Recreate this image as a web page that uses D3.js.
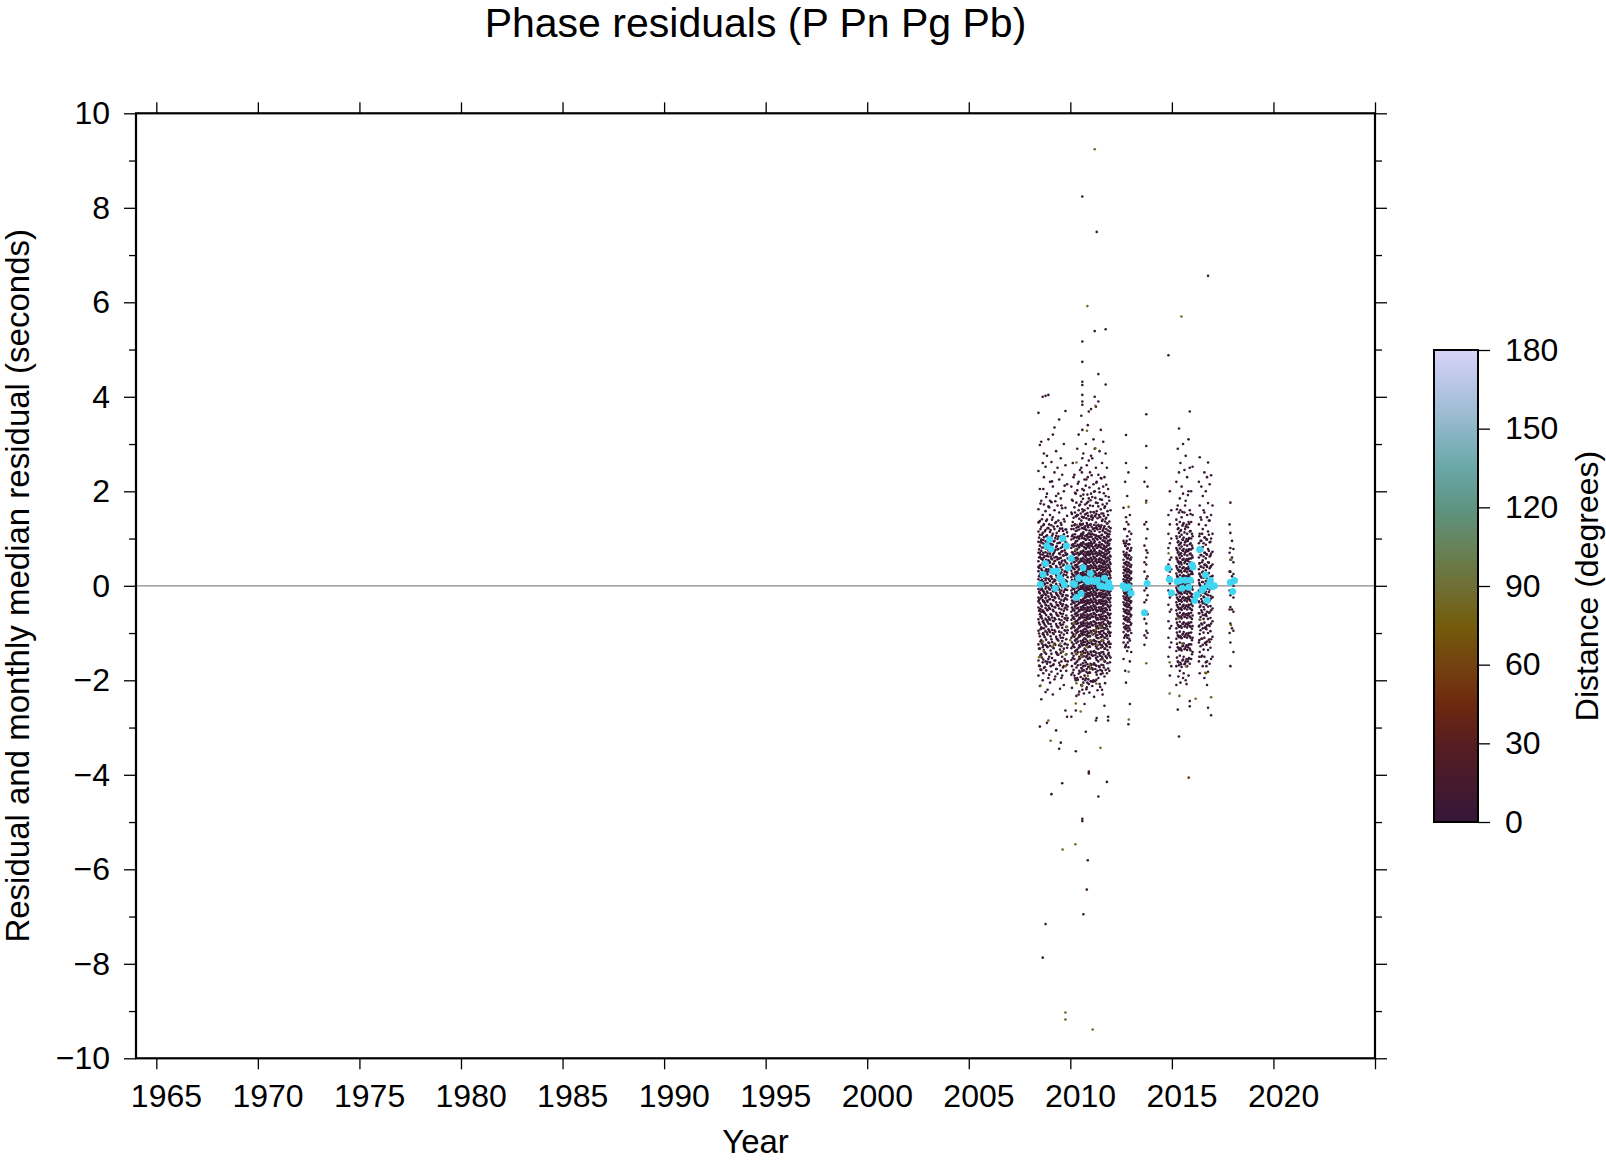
<!DOCTYPE html>
<html><head><meta charset="utf-8">
<script src="https://cdn.jsdelivr.net/npm/d3@7"></script>
<style>
body{margin:0;background:#fff}
svg{display:block}
text{font-family:"Liberation Sans",Arial,Helvetica,sans-serif;fill:#000}
</style>
</head><body>
<svg id="chart" width="1606" height="1161"></svg>
<script>
// ---------------- DATA ----------------
const titleText = "Phase residuals (P Pn Pg Pb)";
const xLabelText = "Year";
const yLabelText = "Residual and monthly median residual (seconds)";
const cbLabelText = "Distance (degrees)";

const xDomain = [1964, 2025];
const yDomain = [-10, 10];
const xTickYears = [1965,1970,1975,1980,1985,1990,1995,2000,2005,2010,2015,2020,2025];
const xTickLabels = [1965,1970,1975,1980,1985,1990,1995,2000,2005,2010,2015,2020];
const yMajorTicks = [-10,-8,-6,-4,-2,0,2,4,6,8,10];
const yMinorTicks = [-9,-7,-5,-3,-1,1,3,5,7,9];
const cbTicks = [0,30,60,90,120,150,180];

// colour palette of distance (degrees)
const cmapStops  = [0,15,30,45,60,75,90,105,120,135,150,165,180];
const cmapColors = ["#341738","#451a2d","#581d20","#6d2a0f","#754210","#735c0b","#6f6f35","#668358","#5e9482","#6aa7a7","#8db6c8","#b4c4e3","#d8d4f8"];

// events (origin time, decimal year) and residuals (s) of near stations
const eventYears = [
 2008.43,2008.50,2008.57,2008.64,2008.70,2008.78,2008.85,2008.92,2009.00,2009.07,
 2009.14,2009.22,2009.30,2009.37,2009.45,2009.53,2009.60,2009.68,2009.76,2009.84,
 2010.05,2010.12,2010.20,2010.27,2010.34,2010.41,2010.48,2010.54,2010.59,2010.64,
 2010.70,2010.76,2010.81,2010.86,2010.91,2010.97,2011.02,2011.08,2011.14,2011.20,
 2011.26,2011.30,2011.38,2011.44,2011.50,2011.56,2011.62,2011.68,2011.74,2011.80,
 2011.86,2011.92,2011.98,
 2012.62,2012.70,2012.74,2012.80,2012.86,2012.93,2013.00,
 2013.65,2013.74,2013.80,
 2014.83,2014.90,2014.97,
 2015.22,2015.29,2015.35,2015.42,2015.48,2015.55,2015.62,2015.68,2015.75,2015.82,2015.88,2015.95,2016.02,
 2016.33,2016.37,2016.45,2016.52,2016.60,2016.67,2016.73,2016.78,2016.86,2016.93,2017.00,
 2017.84,2017.88,2017.96,2018.03
];
const eventDistances = [
 5,4,6,5,7,4,5,6,5,4, 6,5,4,7,5,6,4,5,6,5,
 4,5,6,4,5,7,5,4,6,5, 4,6,5,5,4,6,5,7,4,5,
 6,5,4,5,6,4,5,7,5,4, 6,5,4,
 5,4,6,5,4,6,5,
 5,6,4,
 5,4,6,
 4,5,6,4,5,7,5,4,6,5,4,6,5,
 5,4,6,5,4,6,5,4,5,6,4,
 5,6,4,5
];
const eventResiduals = [
 [3.66,2.43,1.62,1.15,0.93,0.7,0.52,0.31,0.14,-0.07,-0.25,-0.46,-0.71,-0.95,-1.24,-1.58,-1.9,0.4,-0.33,1.34],
 [2.98,2.05,1.37,1.08,0.85,0.61,0.43,0.22,0.02,-0.16,-0.37,-0.6,-0.82,-1.07,-1.33,-1.7,-2.12,0.7,-0.5,-2.98],
 [3.05,1.8,1.25,0.98,0.74,0.57,0.36,0.18,-0.03,-0.21,-0.42,-0.64,-0.88,-1.15,-1.45,-1.78,0.95,0.08,-0.55,-2.4],
 [4.0,2.6,1.5,1.12,0.9,0.66,0.48,0.27,0.09,-0.1,-0.3,-0.52,-0.76,-1.02,-1.3,-1.62,-2.0,0.55,-0.2,-7.87],
 [2.3,1.72,1.3,1.03,0.81,0.6,0.4,0.21,0.03,-0.14,-0.33,-0.55,-0.79,-1.05,-1.36,-1.74,0.17,-0.9,2.8],
 [4.02,2.52,1.58,1.18,0.94,0.71,0.5,0.32,0.12,-0.06,-0.26,-0.47,-0.7,-0.96,-1.25,-1.6,-2.25,-7.16,0.8,-0.4],
 [2.75,1.95,1.4,1.07,0.83,0.63,0.44,0.25,0.06,-0.12,-0.31,-0.5,-0.73,-0.99,-1.28,-1.65,-2.9,0.3],
 [4.04,3.1,1.68,1.22,0.96,0.75,0.54,0.35,0.15,-0.04,-0.23,-0.43,-0.66,-0.92,-1.2,-1.55,-1.95,0.62,-0.8],
 [2.2,1.5,1.14,0.9,0.68,0.49,0.29,0.1,-0.08,-0.28,-0.49,-0.72,-0.98,-1.27,-1.62,-2.05,0.42,1.8],
 [2.62,1.77,1.28,1.0,0.78,0.58,0.38,0.19,0.0,-0.19,-0.4,-0.62,-0.86,-1.13,-1.44,-1.82,-4.41,0.88],
 [3.2,2.1,1.45,1.1,0.87,0.65,0.46,0.26,0.07,-0.11,-0.3,-0.51,-0.74,-1.0,-1.3,-1.68,-2.3],
 [3.35,2.4,1.6,1.2,0.95,0.72,0.52,0.33,0.13,-0.05,-0.24,-0.45,-0.68,-0.94,-1.22,-1.58,-1.98,0.6],
 [2.85,1.9,1.35,1.06,0.82,0.61,0.42,0.23,0.04,-0.15,-0.35,-0.57,-0.81,-1.08,-1.4,-1.76,-3.06,0.34],
 [2.5,1.7,1.26,0.99,0.77,0.56,0.37,0.17,-0.02,-0.2,-0.41,-0.63,-0.87,-1.14,-1.46,-1.86,0.9],
 [3.52,2.25,1.55,1.16,0.91,0.69,0.49,0.3,0.11,-0.08,-0.27,-0.48,-0.71,-0.97,-1.26,-1.63,-3.45,0.58],
 [2.7,1.85,1.33,1.04,0.8,0.59,0.39,0.2,0.01,-0.17,-0.38,-0.59,-0.83,-1.1,-1.42,-1.8,-3.32],
 [2.35,1.64,1.21,0.96,0.73,0.53,0.34,0.16,-0.03,-0.22,-0.43,-0.65,-0.89,-1.17,-1.5,-1.9,-4.18,0.82],
 [3.0,2.0,1.41,1.09,0.86,0.64,0.45,0.24,0.05,-0.13,-0.32,-0.53,-0.77,-1.03,-1.33,-1.7,-2.1],
 [3.7,2.55,1.65,1.19,0.93,0.7,0.51,0.31,0.12,-0.07,-0.26,-0.46,-0.69,-0.95,-1.23,-1.59,-2.64],
 [2.15,1.48,1.13,0.89,0.67,0.47,0.28,0.09,-0.09,-0.29,-0.5,-0.73,-1.0,-1.31,-1.67,-2.77],
 [2.1,1.55,1.2,0.98,0.8,0.63,0.47,0.32,0.18,0.04,-0.1,-0.24,-0.39,-0.55,-0.72,-0.9,-1.1,-1.32,-1.57,-1.88,-2.77,0.58],
 [2.6,1.8,1.35,1.08,0.88,0.7,0.54,0.38,0.23,0.08,-0.06,-0.2,-0.35,-0.51,-0.68,-0.86,-1.06,-1.28,-1.53,-1.84,0.05],
 [2.35,1.66,1.28,1.03,0.84,0.66,0.5,0.35,0.2,0.06,-0.08,-0.22,-0.37,-0.53,-0.7,-0.88,-1.08,-1.3,-1.55,-1.9],
 [1.95,1.47,1.16,0.94,0.76,0.59,0.44,0.29,0.15,0.01,-0.13,-0.27,-0.42,-0.58,-0.75,-0.94,-1.14,-1.37,-1.63,-2.0,-2.64,-3.5],
 [2.9,2.02,1.5,1.17,0.95,0.77,0.6,0.45,0.3,0.16,0.02,-0.12,-0.26,-0.41,-0.57,-0.74,-0.92,-1.12,-1.35,-1.6,-1.95],
 [3.2,2.2,1.6,1.25,1.01,0.82,0.65,0.49,0.34,0.19,0.05,-0.09,-0.23,-0.38,-0.54,-0.71,-0.89,-1.09,-1.31,-1.56,-1.86,-2.3],
 [2.45,1.72,1.31,1.05,0.86,0.68,0.52,0.36,0.21,0.07,-0.07,-0.21,-0.36,-0.52,-0.69,-0.87,-1.07,-1.29,-1.54,-1.83],
 [3.6,2.5,1.78,1.38,1.1,0.9,0.72,0.56,0.4,0.25,0.11,-0.03,-0.17,-0.32,-0.47,-0.64,-0.82,-1.01,-1.22,-1.46,-1.74,-2.1],
 [8.24,5.17,4.74,4.32,4.25,4.04,3.9,3.83,3.3,2.7,2.05,1.62,1.3,1.06,0.87,0.69,0.53,0.37,0.22,0.08,-0.06,-0.2,-0.35,-0.5,-0.67,-0.85,-1.04,-1.26,-1.5,-1.8,-2.2,-4.98,-4.93],
 [2.8,1.93,1.44,1.13,0.92,0.74,0.58,0.42,0.27,0.13,-0.01,-0.15,-0.3,-0.45,-0.61,-0.79,-0.98,-1.19,-1.42,-1.7,-2.05,-6.95],
 [2.25,1.6,1.24,1.0,0.81,0.64,0.48,0.33,0.19,0.04,-0.1,-0.25,-0.4,-0.56,-0.73,-0.91,-1.11,-1.33,-1.58,-1.9,-2.5],
 [3.0,2.12,1.52,1.19,0.97,0.78,0.61,0.46,0.31,0.17,0.03,-0.11,-0.25,-0.4,-0.56,-0.73,-0.92,-1.13,-1.36,-1.62,-1.96,-3.09],
 [2.55,1.75,1.33,1.06,0.86,0.69,0.53,0.38,0.23,0.09,-0.05,-0.19,-0.34,-0.5,-0.66,-0.84,-1.03,-1.24,-1.48,-1.76,-2.15,-6.43],
 [3.4,2.3,1.64,1.27,1.02,0.83,0.66,0.5,0.35,0.2,0.06,-0.08,-0.22,-0.37,-0.53,-0.7,-0.88,-1.08,-1.3,-1.55,-1.85,-5.81],
 [3.69,2.65,1.85,1.4,1.11,0.9,0.72,0.56,0.41,0.26,0.12,-0.02,-0.16,-0.31,-0.46,-0.63,-0.81,-1.0,-1.21,-1.45,-1.72,-2.08,-3.97,-3.93],
 [2.4,1.7,1.29,1.04,0.85,0.67,0.51,0.36,0.21,0.07,-0.07,-0.21,-0.36,-0.52,-0.69,-0.87,-1.07,-1.29,-1.54,-1.84],
 [3.74,2.75,1.95,1.46,1.15,0.93,0.75,0.59,0.43,0.28,0.14,0.0,-0.14,-0.29,-0.44,-0.6,-0.78,-0.97,-1.18,-1.41,-1.68,-2.02],
 [2.7,1.88,1.4,1.1,0.89,0.71,0.55,0.39,0.24,0.1,-0.04,-0.18,-0.33,-0.48,-0.65,-0.83,-1.02,-1.23,-1.47,-1.75,-2.12],
 [3.1,2.15,1.56,1.21,0.98,0.79,0.62,0.47,0.32,0.17,0.03,-0.11,-0.26,-0.41,-0.57,-0.75,-0.94,-1.15,-1.39,-1.66,-2.0],
 [5.39,4.0,2.9,2.0,1.48,1.16,0.94,0.76,0.6,0.44,0.29,0.15,0.01,-0.13,-0.28,-0.43,-0.59,-0.77,-0.96,-1.17,-1.4,-1.67,-2.02],
 [3.79,2.5,1.76,1.34,1.07,0.87,0.7,0.54,0.38,0.23,0.09,-0.05,-0.2,-0.35,-0.51,-0.68,-0.86,-1.06,-1.28,-1.53,-1.83,-2.85],
 [7.49,2.2,1.58,1.22,0.99,0.8,0.63,0.48,0.33,0.18,0.04,-0.1,-0.24,-0.39,-0.55,-0.72,-0.9,-1.1,-1.32,-1.57,-1.88,-2.8],
 [4.48,3.9,2.35,1.68,1.29,1.04,0.84,0.67,0.51,0.36,0.21,0.07,-0.07,-0.22,-0.37,-0.53,-0.71,-0.9,-1.11,-1.34,-1.6,-1.95,-4.46],
 [2.85,1.98,1.46,1.14,0.92,0.74,0.58,0.43,0.28,0.13,-0.01,-0.15,-0.3,-0.46,-0.62,-0.8,-0.99,-1.2,-1.44,-1.72,-2.08],
 [3.3,2.28,1.62,1.25,1.0,0.81,0.64,0.49,0.34,0.19,0.05,-0.09,-0.23,-0.38,-0.54,-0.71,-0.89,-1.09,-1.31,-1.56,-1.87],
 [2.6,1.82,1.37,1.08,0.88,0.7,0.54,0.39,0.24,0.1,-0.04,-0.18,-0.33,-0.49,-0.66,-0.84,-1.04,-1.26,-1.5,-1.8,-2.2],
 [3.05,2.1,1.53,1.19,0.96,0.78,0.61,0.45,0.3,0.16,0.02,-0.12,-0.27,-0.42,-0.58,-0.76,-0.95,-1.16,-1.4,-1.68],
 [2.3,1.65,1.26,1.01,0.82,0.65,0.49,0.34,0.2,0.06,-0.08,-0.23,-0.38,-0.54,-0.71,-0.9,-1.1,-1.33,-1.6,-1.92,-2.54],
 [5.43,4.26,2.8,1.9,1.42,1.12,0.91,0.73,0.57,0.41,0.26,0.12,-0.02,-0.16,-0.31,-0.47,-0.64,-0.82,-1.02,-1.24,-1.49,-1.78],
 [2.5,1.74,1.32,1.05,0.85,0.68,0.52,0.37,0.22,0.08,-0.06,-0.2,-0.35,-0.51,-0.68,-0.86,-1.06,-1.28,-1.53,-1.85,-4.15],
 [2.05,1.5,1.17,0.95,0.77,0.6,0.45,0.3,0.16,0.02,-0.12,-0.27,-0.43,-0.6,-0.78,-0.98,-1.2,-1.45,-1.75,-2.77,-2.85],
 [1.8,1.36,1.09,0.89,0.72,0.56,0.41,0.27,0.13,-0.01,-0.15,-0.3,-0.46,-0.63,-0.81,-1.01,-1.23,-1.48,-1.8],
 [1.6,1.22,0.98,0.79,0.62,0.46,0.31,0.17,0.03,-0.11,-0.26,-0.42,-0.59,-0.78,-0.99,-1.23,-1.52],
 [1.65,0.95,0.72,0.55,0.4,0.27,0.14,0.02,-0.1,-0.22,-0.35,-0.49,-0.64,-0.8,-0.98,-1.2,-1.55],
 [2.2,1.2,0.85,0.63,0.47,0.33,0.2,0.08,-0.04,-0.16,-0.28,-0.41,-0.55,-0.7,-0.87,-1.06,-1.3,-1.8],
 [3.19,2.6,1.45,0.9,0.66,0.5,0.36,0.23,0.11,-0.01,-0.13,-0.25,-0.38,-0.52,-0.67,-0.84,-1.03,-1.25,-2.05],
 [1.9,1.05,0.78,0.58,0.43,0.3,0.17,0.05,-0.07,-0.19,-0.31,-0.44,-0.58,-0.73,-0.9,-1.1,-1.38],
 [2.4,1.3,0.88,0.65,0.49,0.35,0.22,0.1,-0.02,-0.14,-0.26,-0.39,-0.53,-0.68,-0.85,-1.05,-1.3,-2.93],
 [1.5,0.98,0.74,0.56,0.41,0.28,0.15,0.03,-0.09,-0.21,-0.33,-0.46,-0.6,-0.76,-0.94,-1.16,-1.6,-2.5],
 [1.1,0.8,0.6,0.44,0.3,0.16,0.04,-0.08,-0.2,-0.33,-0.47,-0.62,-0.8,-1.0,-1.4],
 [2.2,1.3,0.85,0.5,0.3,-0.1,-0.35,-0.7,-1.05,-1.25],
 [3.63,2.96,2.5,1.8,1.35,1.0,0.75,0.45,0.15,-0.05,-0.3,-0.55,-0.8,-1.1,-0.95,0.6],
 [2.1,1.2,0.7,0.2,-0.2,-0.6,-1.0],
 [4.88,1.5,1.1,0.8,0.45,0.2,-0.1,-0.4,-0.75,-1.1,-1.5],
 [2.0,1.3,0.9,0.55,0.3,0.05,-0.25,-0.55,-0.9,-1.3,-1.9],
 [1.6,1.0,0.6,0.35,0.1,-0.2,-0.5,-0.85,-1.2,-1.7],
 [2.2,1.4,1.05,0.8,0.6,0.42,0.26,0.11,-0.04,-0.19,-0.35,-0.52,-0.7,-0.9,-1.12,-1.38,-1.7,-2.1],
 [2.9,1.7,1.2,0.92,0.7,0.51,0.34,0.18,0.03,-0.12,-0.28,-0.45,-0.63,-0.83,-1.05,-1.3,-1.6,-2.62],
 [3.33,2.4,1.55,1.12,0.86,0.65,0.47,0.3,0.14,-0.01,-0.16,-0.32,-0.49,-0.67,-0.87,-1.09,-1.35,-1.68,-3.19],
 [2.6,1.6,1.16,0.89,0.68,0.49,0.32,0.16,0.01,-0.14,-0.3,-0.47,-0.65,-0.85,-1.07,-1.32,-1.63,-2.05],
 [2.1,1.45,1.08,0.83,0.63,0.45,0.28,0.12,-0.03,-0.18,-0.34,-0.51,-0.69,-0.89,-1.11,-1.37,-1.72],
 [3.0,1.95,1.3,0.97,0.74,0.55,0.38,0.21,0.06,-0.09,-0.25,-0.42,-0.6,-0.8,-1.02,-1.27,-1.56,-1.95],
 [2.45,1.55,1.13,0.87,0.66,0.48,0.31,0.15,0.0,-0.15,-0.31,-0.48,-0.66,-0.86,-1.08,-1.34,-1.66],
 [2.75,1.8,1.25,0.94,0.72,0.53,0.36,0.2,0.05,-0.1,-0.26,-0.43,-0.61,-0.81,-1.03,-1.29,-1.6,-2.0],
 [2.3,1.5,1.1,0.85,0.64,0.46,0.29,0.13,-0.02,-0.17,-0.33,-0.5,-0.68,-0.88,-1.1,-1.36,-1.7],
 [3.1,2.0,1.35,0.99,0.76,0.57,0.4,0.24,0.08,-0.07,-0.23,-0.4,-0.58,-0.78,-1.0,-1.25,-1.55,-1.9],
 [3.69,2.5,1.6,1.15,0.88,0.67,0.49,0.32,0.16,0.01,-0.14,-0.3,-0.47,-0.65,-0.85,-1.07,-1.33,-1.65,-2.44,-2.55],
 [2.0,1.35,1.0,0.77,0.58,0.41,0.25,0.09,-0.06,-0.22,-0.39,-0.57,-0.77,-0.99,-1.24,-1.55],
 [2.52,1.5,1.05,0.8,0.6,0.42,0.25,0.08,-0.08,-0.25,-0.43,-0.63,-0.85,-1.1,-1.4],
 [2.2,1.3,0.9,0.6,0.35,0.12,-0.1,-0.33,-0.58,-0.86,-1.2,-1.6],
 [2.72,1.7,1.1,0.75,0.48,0.24,0.02,-0.21,-0.45,-0.72,-1.02,-1.4,-1.85],
 [2.1,1.4,0.95,0.65,0.4,0.17,-0.05,-0.28,-0.52,-0.8,-1.12,-1.5],
 [1.9,1.2,0.82,0.54,0.3,0.08,-0.14,-0.37,-0.62,-0.9,-1.25,-1.7],
 [2.4,1.55,1.02,0.7,0.44,0.2,-0.02,-0.25,-0.5,-0.78,-1.1,-1.5,-1.95],
 [2.0,1.28,0.87,0.58,0.33,0.1,-0.12,-0.35,-0.6,-0.88,-1.2,-1.62],
 [2.3,1.45,0.98,0.66,0.4,0.16,-0.06,-0.3,-0.55,-0.84,-1.18,-1.6,-2.1],
 [6.56,2.61,1.75,1.15,0.78,0.5,0.25,0.02,-0.2,-0.44,-0.7,-1.0,-1.36,-1.82,-2.58],
 [2.15,1.38,0.92,0.62,0.37,0.14,-0.08,-0.31,-0.56,-0.85,-1.19,-1.65],
 [2.34,1.5,1.0,0.68,0.42,0.18,-0.04,-0.27,-0.52,-0.8,-1.13,-1.55,-2.74],
 [1.7,1.1,0.72,0.45,0.21,-0.01,-0.24,-0.48,-0.75,-1.08,-1.5],
 [1.3,0.7,0.3,-0.1,-0.5,-1.0],
 [1.76,1.12,0.8,0.55,0.3,0.05,-0.2,-0.45,-0.8,-1.2,-1.7],
 [0.95,0.6,0.2,-0.15,-0.5,-0.9],
 [0.78,0.5,0.25,0.0,-0.25,-0.55,-0.95,-1.4]
];

// smaller events in between (near stations)
const minorEventYears = [
 2008.46,2008.53,2008.60,2008.67,2008.74,2008.81,2008.88,2008.96,2009.03,2009.10,
 2009.18,2009.26,2009.33,2009.41,2009.49,2009.56,2009.64,2009.72,2009.80,2009.87,
 2010.08,2010.16,2010.23,2010.30,2010.37,2010.44,2010.51,2010.57,2010.62,2010.67,
 2010.73,2010.79,2010.84,2010.88,2010.94,2011.00,2011.05,2011.11,2011.17,2011.23,
 2011.28,2011.34,2011.41,2011.47,2011.53,2011.59,2011.65,2011.71,2011.77,2011.83,
 2011.89,2011.95,
 2012.65,2012.72,2012.77,2012.83,2012.90,2012.97,
 2015.25,2015.32,2015.39,2015.45,2015.52,2015.58,2015.65,2015.72,2015.79,2015.85,2015.92,2015.99,
 2016.35,2016.41,2016.49,2016.56,2016.63,2016.70,2016.82,2016.90
];
const minorEventDistances = [
 6,5,4,5,7,5,4,6,5,5, 4,6,5,7,5,4,6,5,4,6,
 5,4,6,5,4,6,5,7,4,5, 6,5,4,6,5,4,7,5,6,4, 5,6,4,5,7,5,4,6,5,4, 6,5,
 4,6,5,5,4,6,
 5,6,4,5,7,4,6,5,4,5,6,4,
 6,5,4,6,5,4,5,6
];
const minorEventResiduals = [
 [1.35,1.02,0.77,0.6,0.38,0.2,0.05,-0.13,-0.3,-0.53,-0.78,-1.01,-1.33,-1.69],
 [1.2,0.92,0.66,0.44,0.26,0.1,-0.09,-0.27,-0.49,-0.66,-0.92,-1.18,-1.47,-1.77,1.74],
 [1.41,1.08,0.81,0.58,0.33,0.12,-0.06,-0.24,-0.44,-0.69,-0.9,-1.22,-1.52],
 [1.28,0.97,0.7,0.5,0.29,0.07,-0.11,-0.33,-0.55,-0.74,-1.0,-1.26,-1.56,-1.85,2.05],
 [1.15,0.88,0.63,0.42,0.22,0.04,-0.17,-0.36,-0.58,-0.83,-1.09,-1.41,-1.72],
 [1.37,1.05,0.79,0.55,0.35,0.16,-0.02,-0.2,-0.41,-0.62,-0.86,-1.14,-1.44,-1.79,1.88],
 [1.22,0.9,0.68,0.46,0.24,0.06,-0.15,-0.34,-0.52,-0.76,-1.03,-1.3,-1.61,-2.2],
 [1.3,1.0,0.73,0.52,0.31,0.13,-0.07,-0.29,-0.47,-0.7,-0.95,-1.21,-1.5,-1.88,1.66],
 [1.18,0.86,0.62,0.41,0.2,0.02,-0.16,-0.38,-0.6,-0.81,-1.07,-1.37,-1.7],
 [1.4,1.06,0.8,0.56,0.36,0.15,-0.04,-0.23,-0.43,-0.67,-0.93,-1.19,-1.53,2.21],
 [1.25,0.94,0.69,0.47,0.27,0.09,-0.12,-0.31,-0.54,-0.75,-1.02,-1.32,-1.66],
 [1.33,1.01,0.76,0.53,0.32,0.11,-0.08,-0.26,-0.46,-0.71,-0.97,-1.25,-1.58,-1.92,1.79],
 [1.12,0.84,0.61,0.39,0.19,0.0,-0.18,-0.4,-0.61,-0.85,-1.12,-1.43,-1.76],
 [1.38,1.04,0.78,0.57,0.34,0.14,-0.05,-0.22,-0.42,-0.64,-0.88,-1.16,-1.46,1.95],
 [1.21,0.91,0.67,0.45,0.25,0.05,-0.14,-0.35,-0.57,-0.79,-1.05,-1.35,-1.68,-2.18],
 [1.29,0.98,0.72,0.49,0.28,0.08,-0.1,-0.3,-0.5,-0.73,-0.99,-1.28,-1.6,-1.95,1.7],
 [1.16,0.87,0.64,0.43,0.21,0.03,-0.19,-0.39,-0.59,-0.82,-1.1,-1.39,-1.73],
 [1.36,1.03,0.75,0.54,0.3,0.1,-0.09,-0.28,-0.48,-0.69,-0.94,-1.23,-1.55,2.12],
 [1.19,0.89,0.65,0.4,0.23,0.01,-0.2,-0.41,-0.63,-0.87,-1.13,-1.45,-1.8],
 [1.05,0.8,0.58,0.37,0.18,-0.01,-0.21,-0.44,-0.68,-0.94,-1.25,-1.6],
 [1.52,1.27,1.05,0.86,0.71,0.55,0.41,0.26,0.12,-0.02,-0.16,-0.31,-0.46,-0.63,-0.8,-0.99,-1.2,-1.43,-1.7,1.82,-2.16],
 [1.44,1.2,1.0,0.83,0.67,0.51,0.37,0.22,0.09,-0.05,-0.19,-0.34,-0.49,-0.66,-0.83,-1.02,-1.24,-1.48,-1.78,2.3],
 [1.55,1.3,1.09,0.9,0.73,0.58,0.43,0.28,0.14,0.0,-0.14,-0.29,-0.44,-0.6,-0.77,-0.95,-1.16,-1.39,-1.65,-1.96,1.97],
 [1.47,1.23,1.02,0.84,0.68,0.53,0.39,0.24,0.1,-0.04,-0.18,-0.33,-0.48,-0.64,-0.81,-1.0,-1.21,-1.45,-1.73,1.76,-2.33],
 [1.5,1.25,1.04,0.87,0.7,0.56,0.4,0.27,0.11,-0.03,-0.17,-0.32,-0.47,-0.62,-0.79,-0.97,-1.18,-1.41,-1.68,-1.99,2.16],
 [1.42,1.19,0.99,0.81,0.66,0.5,0.36,0.21,0.07,-0.07,-0.21,-0.36,-0.51,-0.67,-0.85,-1.04,-1.26,-1.5,-1.8,1.7,-2.24],
 [1.53,1.28,1.07,0.89,0.72,0.57,0.42,0.27,0.13,-0.01,-0.15,-0.3,-0.45,-0.61,-0.78,-0.96,-1.17,-1.4,-1.67,-1.93,1.9],
 [1.46,1.22,1.01,0.85,0.69,0.52,0.38,0.25,0.08,-0.06,-0.2,-0.35,-0.5,-0.65,-0.82,-1.01,-1.22,-1.46,-1.75,2.4,-2.12],
 [1.57,1.31,1.1,0.91,0.74,0.59,0.44,0.29,0.15,0.01,-0.13,-0.28,-0.43,-0.59,-0.76,-0.94,-1.15,-1.38,-1.64,-1.97,1.84],
 [1.45,1.21,1.0,0.82,0.66,0.51,0.36,0.22,0.08,-0.06,-0.2,-0.35,-0.5,-0.67,-0.84,-1.03,-1.25,-1.49,-1.79,2.02,-2.28],
 [1.51,1.26,1.06,0.88,0.71,0.55,0.4,0.25,0.11,-0.03,-0.17,-0.32,-0.47,-0.63,-0.8,-0.98,-1.19,-1.42,-1.69,-2.0,1.72],
 [1.43,1.18,0.98,0.8,0.65,0.49,0.35,0.2,0.06,-0.08,-0.22,-0.37,-0.52,-0.68,-0.86,-1.05,-1.27,-1.51,-1.82,2.25,-2.19],
 [1.54,1.29,1.08,0.89,0.72,0.57,0.42,0.28,0.13,-0.01,-0.15,-0.3,-0.45,-0.61,-0.78,-0.96,-1.17,-1.4,-1.66,1.93,-2.05],
 [1.48,1.24,1.03,0.86,0.69,0.54,0.39,0.23,0.1,-0.04,-0.18,-0.33,-0.48,-0.64,-0.81,-1.0,-1.21,-1.44,-1.72,-1.98,1.78],
 [1.41,1.17,0.97,0.8,0.64,0.49,0.34,0.2,0.05,-0.09,-0.23,-0.38,-0.53,-0.69,-0.87,-1.06,-1.28,-1.52,-1.83,2.08,-2.26],
 [1.56,1.3,1.09,0.9,0.73,0.58,0.43,0.27,0.14,0.0,-0.14,-0.29,-0.44,-0.6,-0.77,-0.95,-1.16,-1.39,-1.65,1.81,-2.02],
 [1.49,1.25,1.04,0.85,0.7,0.53,0.4,0.24,0.1,-0.04,-0.18,-0.33,-0.48,-0.65,-0.82,-1.0,-1.22,-1.46,-1.74,2.34],
 [1.44,1.2,0.99,0.82,0.67,0.5,0.37,0.21,0.07,-0.07,-0.21,-0.36,-0.51,-0.66,-0.84,-1.03,-1.24,-1.48,-1.77,-2.03,1.69],
 [1.55,1.29,1.08,0.91,0.74,0.58,0.43,0.29,0.14,0.0,-0.14,-0.29,-0.44,-0.6,-0.76,-0.95,-1.15,-1.38,-1.64,1.99,-2.35],
 [1.47,1.22,1.02,0.84,0.68,0.52,0.38,0.23,0.09,-0.05,-0.19,-0.34,-0.49,-0.65,-0.82,-1.01,-1.23,-1.47,-1.76,1.86],
 [1.52,1.27,1.06,0.87,0.71,0.56,0.41,0.26,0.12,-0.02,-0.16,-0.31,-0.46,-0.62,-0.79,-0.97,-1.18,-1.42,-1.69,-1.99,2.18],
 [1.43,1.19,0.98,0.81,0.65,0.5,0.35,0.21,0.06,-0.08,-0.22,-0.37,-0.52,-0.68,-0.85,-1.04,-1.26,-1.5,-1.8,1.75,-2.21],
 [1.5,1.26,1.05,0.87,0.7,0.55,0.41,0.26,0.11,-0.03,-0.17,-0.32,-0.46,-0.62,-0.79,-0.98,-1.19,-1.43,-1.7,2.06],
 [1.45,1.21,1.01,0.83,0.67,0.51,0.37,0.22,0.08,-0.06,-0.2,-0.35,-0.5,-0.66,-0.83,-1.02,-1.24,-1.48,-1.78,1.83,-2.14],
 [1.53,1.28,1.07,0.88,0.72,0.56,0.42,0.27,0.13,-0.01,-0.15,-0.3,-0.45,-0.61,-0.78,-0.96,-1.17,-1.41,-1.67,2.27],
 [1.4,1.16,0.96,0.79,0.63,0.48,0.34,0.19,0.05,-0.09,-0.23,-0.38,-0.54,-0.7,-0.88,-1.07,-1.29,-1.54,-1.85,1.72,-2.3],
 [1.48,1.23,1.03,0.85,0.69,0.53,0.39,0.24,0.1,-0.04,-0.18,-0.33,-0.48,-0.64,-0.81,-1.0,-1.21,-1.45,-1.73,1.96],
 [1.36,1.13,0.94,0.77,0.61,0.46,0.32,0.18,0.04,-0.1,-0.24,-0.39,-0.55,-0.72,-0.9,-1.1,-1.33,-1.6,1.68,-2.06],
 [1.44,1.2,1.0,0.82,0.66,0.51,0.36,0.22,0.08,-0.06,-0.2,-0.35,-0.5,-0.66,-0.84,-1.03,-1.25,-1.5,2.14],
 [1.32,1.1,0.91,0.75,0.59,0.44,0.3,0.16,0.02,-0.12,-0.26,-0.41,-0.57,-0.74,-0.92,-1.12,-1.36,-1.64,1.58],
 [1.25,1.04,0.86,0.7,0.55,0.4,0.26,0.12,-0.02,-0.16,-0.3,-0.45,-0.61,-0.78,-0.97,-1.18,-1.42,1.88],
 [1.15,0.96,0.79,0.64,0.5,0.36,0.22,0.08,-0.06,-0.2,-0.35,-0.51,-0.68,-0.86,-1.06,-1.3,-1.62],
 [0.9,0.66,0.48,0.34,0.21,0.09,-0.03,-0.15,-0.27,-0.4,-0.54,-0.7,-0.88,-1.1,1.2],
 [0.84,0.62,0.45,0.31,0.18,0.06,-0.06,-0.18,-0.3,-0.43,-0.57,-0.73,-0.92,-1.28],
 [0.95,0.7,0.51,0.37,0.24,0.12,0.0,-0.12,-0.24,-0.37,-0.51,-0.66,-0.84,-1.05,1.35],
 [0.8,0.59,0.43,0.29,0.16,0.04,-0.08,-0.2,-0.32,-0.45,-0.6,-0.76,-0.96,-1.2],
 [0.88,0.64,0.47,0.33,0.2,0.08,-0.04,-0.16,-0.28,-0.41,-0.55,-0.71,-0.9,-1.12,1.15],
 [0.75,0.55,0.4,0.26,0.13,0.01,-0.11,-0.23,-0.36,-0.5,-0.65,-0.83],
 [1.3,1.0,0.76,0.56,0.38,0.21,0.06,-0.09,-0.25,-0.41,-0.59,-0.78,-0.99,-1.23,-1.52,1.62],
 [1.22,0.94,0.72,0.52,0.34,0.18,0.02,-0.13,-0.29,-0.46,-0.64,-0.84,-1.06,-1.31,-1.62,-1.92],
 [1.35,1.04,0.79,0.59,0.4,0.23,0.08,-0.07,-0.23,-0.39,-0.57,-0.76,-0.97,-1.2,-1.48,-1.8,1.85],
 [1.18,0.91,0.69,0.5,0.32,0.16,0.0,-0.15,-0.31,-0.48,-0.66,-0.86,-1.09,-1.35,-1.66],
 [1.27,0.98,0.75,0.55,0.37,0.2,0.04,-0.11,-0.27,-0.44,-0.62,-0.81,-1.03,-1.28,-1.58,1.56],
 [1.33,1.02,0.78,0.57,0.39,0.22,0.07,-0.08,-0.24,-0.4,-0.58,-0.77,-0.98,-1.22,-1.5,-1.85],
 [1.2,0.92,0.7,0.51,0.33,0.17,0.01,-0.14,-0.3,-0.47,-0.65,-0.85,-1.07,-1.33,-1.64,1.7],
 [1.29,0.99,0.76,0.56,0.37,0.2,0.05,-0.1,-0.26,-0.42,-0.6,-0.8,-1.01,-1.26,-1.55,-2.08],
 [1.24,0.95,0.73,0.53,0.35,0.19,0.03,-0.12,-0.28,-0.45,-0.63,-0.83,-1.05,-1.3,-1.6,1.92],
 [1.31,1.01,0.77,0.57,0.38,0.21,0.06,-0.09,-0.25,-0.41,-0.59,-0.79,-1.0,-1.24,-1.53],
 [1.16,0.9,0.68,0.49,0.31,0.15,-0.01,-0.16,-0.32,-0.49,-0.67,-0.87,-1.1,-1.37,1.52],
 [1.1,0.85,0.64,0.46,0.29,0.13,-0.02,-0.18,-0.34,-0.51,-0.7,-0.91,-1.15,-1.45],
 [1.05,0.72,0.47,0.26,0.06,-0.14,-0.35,-0.58,-0.84,-1.15,-1.5],
 [0.95,0.65,0.41,0.2,0.0,-0.2,-0.42,-0.66,-0.94,-1.28,1.45],
 [1.1,0.76,0.5,0.28,0.08,-0.12,-0.33,-0.56,-0.82,-1.12,-1.48],
 [0.9,0.62,0.38,0.17,-0.03,-0.23,-0.45,-0.7,-0.99,-1.35,1.6],
 [1.02,0.7,0.45,0.24,0.04,-0.16,-0.38,-0.62,-0.89,-1.21],
 [0.98,0.67,0.43,0.22,0.02,-0.18,-0.4,-0.64,-0.92,-1.25,-1.7],
 [1.08,0.74,0.49,0.27,0.07,-0.13,-0.34,-0.57,-0.83,-1.14,1.38],
 [0.93,0.64,0.4,0.19,-0.01,-0.21,-0.43,-0.68,-0.96,-1.31]
];

// far stations (teleseismic) : year, residual, distance
const farYears = [2011.20,2010.84,2015.47,2009.76,2009.76,2011.10,2010.25,2009.62,2008.92,2009.03,
 2011.48,2015.83,2012.88,2016.17,2014.89,2008.46,2008.69,2008.53,2009.77,2009.77,
 2010.27,2010.58,2010.97,2010.86,2011.28,2010.30,2010.59,2010.94,2010.27,2010.51,
 2012.87,2013.74,2014.89,2015.37,2015.70,2016.68,2016.93,2008.53,2008.66,2009.10,
 2009.18,2009.51,2009.59,2009.84,2010.00,2010.17,2010.25,2010.58,2010.82,2010.99,
 2011.23,2011.32,2011.56,2011.64,2010.25,2010.33,2011.07,2011.48,2011.23,2010.82,
 2011.23,2010.30,2013.73,2012.87,2014.84,2015.34,2016.40,2017.93,2017.91,2016.65,2015.50];
const farValues = [9.24,5.92,5.70,-9.03,-9.18,-9.39,-5.47,-5.58,-2.85,-3.28,
 -3.43,-4.06,-2.83,-2.39,-2.28,-1.51,-1.38,-2.11,-1.46,-1.70,
 -1.43,-1.49,-1.76,-1.91,-2.07,-2.06,-2.11,-1.67,-2.49,-2.66,
 -1.82,-1.64,-1.62,-2.33,-1.71,-1.85,-2.36,-1.50,-1.18,-1.29,
 -1.25,-1.22,-1.39,-0.87,-1.15,-0.79,-1.04,-1.43,-1.29,-1.15,
 -0.94,-1.25,-1.15,-1.57,0.76,1.29,-1.01,-0.87,2.91,3.28,
 3.81,2.61,1.76,1.67,0.69,-0.69,-0.72,0.55,-0.83,-1.84,-1.22];
const farDistances = [88,90,86,84,78,88,86,82,84,80,
 90,48,92,84,90,88,80,86,92,84,
 88,82,86,78,88,90,84,88,80,86,
 90,84,92,80,94,72,78,86,80,88,
 84,92,78,86,82,90,84,76,88,86,
 80,92,84,88,82,86,90,84,80,84,
 88,90,86,82,88,84,90,86,80,70,86];

// monthly medians
const medianYears = [2008.53,2008.66,2008.77,2008.85,2008.97,2009.05,2009.13,2009.26,2009.35,2009.48,
 2009.59,2009.63,2009.71,2009.81,2009.89,2010.04,2010.13,2010.20,2010.30,2010.41,
 2010.53,2010.63,2010.74,2010.86,2010.99,2011.07,2011.20,2011.32,2011.45,2011.56,
 2011.68,2011.78,2011.89,2011.97,2012.60,2012.71,2012.87,2012.99,2013.65,2013.78,
 2014.81,2014.88,2014.98,2015.25,2015.42,2015.50,2015.67,2015.83,2015.91,2016.00,
 2016.04,2016.12,2016.24,2016.37,2016.49,2016.57,2016.65,2016.73,2016.81,2016.90,
 2016.98,2017.09,2017.88,2017.99,2018.08];
const medianValues = [0.03,0.24,0.47,0.84,0.98,0.78,0.31,-0.05,0.31,0.17,
 0.11,1.00,0.02,0.84,0.38,0.58,0.05,0.03,-0.25,0.16,
 -0.17,0.38,0.14,0.09,0.26,0.12,0.09,0.12,0.00,-0.01,
 0.16,-0.02,0.06,-0.03,0.00,-0.05,-0.02,-0.16,-0.57,0.05,
 0.37,0.14,-0.15,0.09,0.12,-0.05,0.12,-0.03,0.12,0.44,
 0.40,-0.31,-0.19,0.77,-0.09,-0.05,0.23,-0.31,0.03,0.11,
 -0.02,0.00,0.07,-0.12,0.11];

// ---------------- DRAWING ----------------
const svg = d3.select("#chart");
svg.append("rect").attr("width",1606).attr("height",1161).attr("fill","#fff");
const P = {left:136, right:1375, top:113.3, bottom:1058.3};
const FONT = '"Liberation Sans", Arial, Helvetica, sans-serif';

const x = d3.scaleLinear().domain(xDomain).range([P.left, P.right]);
const y = d3.scaleLinear().domain(yDomain).range([P.bottom, P.top]);
const cmap = d3.scaleLinear().domain(cmapStops).range(cmapColors).interpolate(d3.interpolateRgb).clamp(true);
const fmt = d => d < 0 ? "\u2212" + Math.abs(d) : String(d);

svg.append("clipPath").attr("id","clip").append("rect")
  .attr("x",P.left).attr("y",P.top).attr("width",P.right-P.left).attr("height",P.bottom-P.top);

// zero line
svg.append("line").attr("x1",x(xDomain[0])).attr("x2",x(xDomain[1]))
  .attr("y1",y(0)).attr("y2",y(0)).attr("stroke","#8a8a8a").attr("stroke-width",1.3);

const pts = [];
eventYears.forEach((t,i)=> eventResiduals[i].forEach(v=>pts.push({t, v, d:eventDistances[i] ?? 5})));
minorEventYears.forEach((t,i)=> (minorEventResiduals[i]||[]).forEach(v=>pts.push({t, v, d:minorEventDistances[i] ?? 5})));
const far = farYears.map((t,i)=>({t, v:farValues[i], d:farDistances[i]}));

const gp = svg.append("g").attr("clip-path","url(#clip)");
gp.selectAll("circle.p").data(pts.concat(far)).join("circle").attr("class","p")
  .attr("cx",d=>x(d.t)).attr("cy",d=>y(d.v)).attr("r",1.3).attr("fill",d=>cmap(d.d));

gp.selectAll("circle.m").data(medianYears.map((t,i)=>({t, v:medianValues[i]}))).join("circle").attr("class","m")
  .attr("cx",d=>x(d.t)).attr("cy",d=>y(d.v)).attr("r",3.5).attr("fill","#40d5f0");

// axes
function style(g){
  g.select(".domain").remove();
  g.selectAll(".tick line").attr("stroke","#000").attr("stroke-width",1.3);
  g.selectAll(".tick text").attr("font-family",FONT).attr("font-size",32).attr("fill","#000");
}
svg.append("g").attr("transform",`translate(0,${P.bottom})`)
  .call(d3.axisBottom(x).tickValues(xTickYears).tickSize(11).tickFormat(()=>"")).call(style);
svg.append("g").attr("transform",`translate(0,${P.top})`)
  .call(d3.axisTop(x).tickValues(xTickYears).tickSize(11).tickFormat(()=>"")).call(style);
svg.append("g").attr("transform",`translate(${P.left},0)`)
  .call(d3.axisLeft(y).tickValues(yMajorTicks).tickSize(12).tickPadding(14).tickFormat(fmt)).call(style);
svg.append("g").attr("transform",`translate(${P.left},0)`)
  .call(d3.axisLeft(y).tickValues(yMinorTicks).tickSize(7).tickFormat(()=>"")).call(style);
svg.append("g").attr("transform",`translate(${P.right},0)`)
  .call(d3.axisRight(y).tickValues(yMajorTicks).tickSize(12).tickFormat(()=>"")).call(style);
svg.append("g").attr("transform",`translate(${P.right},0)`)
  .call(d3.axisRight(y).tickValues(yMinorTicks).tickSize(7).tickFormat(()=>"")).call(style);

svg.selectAll("text.xl").data(xTickLabels).join("text").attr("class","xl")
  .attr("x",d=>x(d+0.5)).attr("y",1107).attr("text-anchor","middle")
  .attr("font-family",FONT).attr("font-size",32).text(d=>d);

// frame
svg.append("rect").attr("x",P.left).attr("y",P.top).attr("width",P.right-P.left).attr("height",P.bottom-P.top)
  .attr("fill","none").attr("stroke","#000").attr("stroke-width",2.2);

// titles
svg.append("text").attr("x",(P.left+P.right)/2).attr("y",37).attr("text-anchor","middle")
  .attr("font-family",FONT).attr("font-size",41).text(titleText);
svg.append("text").attr("x",(P.left+P.right)/2).attr("y",1153).attr("text-anchor","middle")
  .attr("font-family",FONT).attr("font-size",33).text(xLabelText);
svg.append("text").attr("transform",`translate(29,${(P.top+P.bottom)/2}) rotate(-90)`).attr("text-anchor","middle")
  .attr("font-family",FONT).attr("font-size",33).text(yLabelText);

// colour bar
const CB = {x:1434, w:44, top:350, bottom:822};
const cbScale = d3.scaleLinear().domain([0,180]).range([CB.bottom, CB.top]);
const grad = svg.append("defs").append("linearGradient").attr("id","cbg")
  .attr("x1",0).attr("y1",1).attr("x2",0).attr("y2",0);
grad.selectAll("stop").data(cmapStops).join("stop")
  .attr("offset",d=>d/180).attr("stop-color",d=>cmap(d));
svg.append("rect").attr("x",CB.x).attr("y",CB.top).attr("width",CB.w).attr("height",CB.bottom-CB.top)
  .attr("fill","url(#cbg)").attr("stroke","#000").attr("stroke-width",2);
svg.append("g").attr("transform",`translate(${CB.x+CB.w},0)`)
  .call(d3.axisRight(cbScale).tickValues(cbTicks).tickSize(12).tickPadding(15)).call(style);
svg.append("text").attr("transform",`translate(1598,${(CB.top+CB.bottom)/2}) rotate(-90)`).attr("text-anchor","middle")
  .attr("font-family",FONT).attr("font-size",32).text(cbLabelText);
</script>
</body></html>
